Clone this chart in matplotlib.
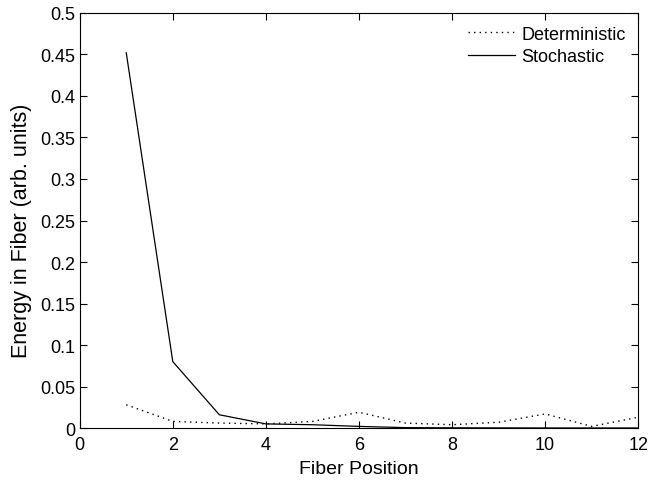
import numpy as np
import matplotlib
matplotlib.use("Agg")
import matplotlib.pyplot as plt

plt.rcParams['font.family'] = ['Liberation Sans', 'DejaVu Sans']

positions = [1, 2, 3, 4, 5, 6, 7, 8, 9, 10, 11, 12]
deterministic = [0.028, 0.008, 0.006, 0.005, 0.008, 0.019, 0.006, 0.004, 0.007, 0.017, 0.002, 0.013]
stochastic = [0.452, 0.080, 0.016, 0.005, 0.004, 0.002, 0.0005, 0.0003, 0.0002, 0.0001, 0.0001, 0.0001]

fig = plt.figure(figsize=(6.48, 4.81), dpi=100)
ax = fig.add_axes([0.123, 0.108, 0.862, 0.863])

ax.plot(positions, deterministic, color='black', linestyle=(0, (1, 3)), linewidth=1.0, label='Deterministic')
ax.plot(positions, stochastic, color='black', linestyle='-', linewidth=0.9, label='Stochastic')

ax.set_xlim(0, 12)
ax.set_ylim(0, 0.5)
ax.set_xticks(np.arange(0, 13, 2))
ax.set_yticks(np.arange(0, 0.51, 0.05))
ax.set_yticklabels(['0', '0.05', '0.1', '0.15', '0.2', '0.25', '0.3', '0.35', '0.4', '0.45', '0.5'])
ax.tick_params(direction='in', top=True, right=True, labelsize=13, length=5, pad=3)
ax.tick_params(axis='x', pad=6)
ax.set_xlabel('Fiber Position', fontsize=14, labelpad=5)
ax.set_ylabel('Energy in Fiber (arb. units)', fontsize=15.5)
ax.yaxis.set_label_coords(-0.086, 0.477)

ax.legend(loc='upper right', frameon=False, fontsize=13, handlelength=2.6, handletextpad=0.35,
          labelspacing=0.3, borderaxespad=0.0, borderpad=0.7)

fig.savefig('out.png', dpi=100)
